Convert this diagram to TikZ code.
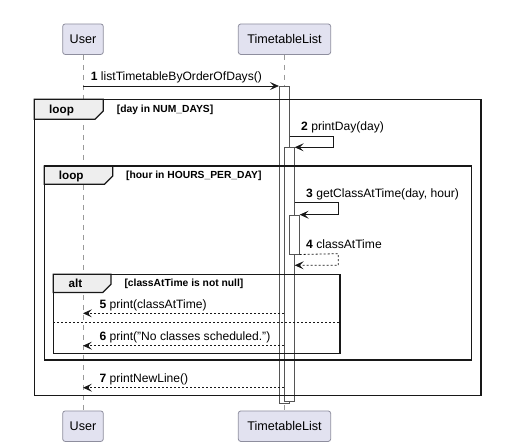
\documentclass[tikz,border=0pt]{standalone}
\usepackage{fontspec}
\setmainfont{Liberation Sans}
\usetikzlibrary{arrows.meta}
\definecolor{partfill}{HTML}{E2E2F0}
\definecolor{partdraw}{HTML}{8E8E9E}
\definecolor{tabfill}{HTML}{EEEEEE}
\definecolor{linec}{HTML}{181818}
\definecolor{lifec}{HTML}{9A9A9A}
\definecolor{barc}{HTML}{555555}
\begin{document}
\begin{tikzpicture}[x=1pt,y=-1pt,
 part/.style={draw=partdraw, fill=partfill, rounded corners=2.5pt, minimum height=30.5pt, inner sep=0pt, font=\fontsize{12.6}{14}\selectfont, line width=0.8pt},
 life/.style={draw=lifec, dash pattern=on 5pt off 5pt, line width=0.7pt},
 actbar/.style={draw=barc, fill=white, line width=0.8pt, inner sep=0pt, minimum width=10pt, anchor=north},
 frm/.style={draw=linec, line width=1.4pt},
 tabbox/.style={draw=linec, fill=tabfill, line width=1.2pt},
 msg/.style={draw=linec, line width=0.8pt, -{Stealth[length=9pt,width=8pt,inset=4pt]}},
 ret/.style={msg, dash pattern=on 2pt off 2pt},
 mlab/.style={font=\fontsize{12.1}{14}\selectfont, anchor=base west, inner sep=0pt},
 glab/.style={font=\fontsize{10.3}{12}\selectfont\bfseries, anchor=base west, inner sep=0pt},
 tlab/.style={font=\fontsize{11.7}{14}\selectfont\bfseries, anchor=base west, inner sep=0pt}
]
\useasboundingbox (0,0) rectangle (514,443);
% participants
\node[part, minimum width=40.6pt] (uT) at (83,39.2) {User};
\node[part, minimum width=92.4pt] (tT) at (284.5,39.2) {TimetableList};
\node[part, minimum width=40.6pt] (uB) at (83,426.2) {User};
\node[part, minimum width=92.4pt] (tB) at (284.5,426.2) {TimetableList};
% lifelines
\draw[life] (uT.south) -- (uB.north);
\draw[life] (tT.south) -- (tB.north);
% activation bars
\node[actbar, minimum height=317pt] (b1) at (284.3,86) {};
\node[actbar, minimum height=254pt] (b2) at (289.3,147.3) {};
\node[actbar, minimum height=39pt] (b3) at (294.3,214.7) {};
% frames
\draw[tabbox] (34.3,99.3) -- (103.3,99.3) -- (103.3,111) -- (95,119.3) -- (34.3,119.3) -- cycle;
\draw[tabbox] (44.3,166) -- (112.7,166) -- (112.7,176) -- (104.5,184.3) -- (44.3,184.3) -- cycle;
\draw[tabbox] (53.3,274.3) -- (111,274.3) -- (111,284.3) -- (102.8,292.5) -- (53.3,292.5) -- cycle;
\draw[frm] (34.3,99.3) rectangle (481,395.7);
\draw[frm] (44.3,166) rectangle (471.7,360);
\draw[frm] (53.3,274.3) rectangle (340,353.3);
\node[tlab] (t1) at (49,113.5) {loop};
\node[glab] (g1) at (116.7,113) {[day in NUM\_DAYS]};
\node[tlab] (t2) at (58.7,179.5) {loop};
\node[glab] (g2) at (126,179) {[hour in HOURS\_PER\_DAY]};
\node[tlab] (t3) at (68.3,287.5) {alt};
\node[glab] (g3) at (124.3,287) {[classAtTime is not null]};
\draw[draw=linec, line width=0.7pt, dash pattern=on 2pt off 2pt] (53.3,322.3) -- (340,322.3);
% message 1
\coordinate (m1s) at (uT.south |- 0,86);
\draw[msg] (m1s) -- (b1.north west);
\node[mlab] (l1) at (90.7,81) {\textbf{1} listTimetableByOrderOfDays()};
% message 2 (self)
\coordinate (m2a) at (b1.east |- 0,136);
\coordinate (m2b) at (333.3,136);
\coordinate (m2c) at (333.3,147.3);
\draw[msg] (m2a) -- (m2b) -- (m2c) -- (b2.north east);
\node[mlab] (l2) at (301,131) {\textbf{2} printDay(day)};
% message 3 (self)
\coordinate (m3a) at (b2.east |- 0,202.3);
\coordinate (m3b) at (338.3,202.3);
\coordinate (m3c) at (338.3,214.7);
\draw[msg] (m3a) -- (m3b) -- (m3c) -- (b3.north east);
\node[mlab] (l3) at (306,197.3) {\textbf{3} getClassAtTime(day, hour)};
% message 4 (return)
\coordinate (m4b) at (338.3,253.7);
\coordinate (m4c) at (338.3,265.3);
\coordinate (m4d) at (b2.east |- 0,265.3);
\draw[ret] (b3.south east) -- (m4b) -- (m4c) -- (m4d);
\node[mlab] (l4) at (306,248.5) {\textbf{4} classAtTime};
% messages 5-7
\coordinate (m5s) at (b2.west |- 0,313.3);
\coordinate (m5e) at (uT.south |- 0,313.3);
\draw[ret] (m5s) -- (m5e);
\node[mlab] (l5) at (99.3,308.3) {\textbf{5} print(classAtTime)};
\coordinate (m6s) at (b2.west |- 0,345.7);
\coordinate (m6e) at (uT.south |- 0,345.7);
\draw[ret] (m6s) -- (m6e);
\node[mlab] (l6) at (99.3,340.7) {\textbf{6} print("No classes scheduled.")};
\coordinate (m7s) at (b2.west |- 0,387.7);
\coordinate (m7e) at (uT.south |- 0,387.7);
\draw[ret] (m7s) -- (m7e);
\node[mlab] (l7) at (99.3,382.7) {\textbf{7} printNewLine()};
\end{tikzpicture}
\end{document}
